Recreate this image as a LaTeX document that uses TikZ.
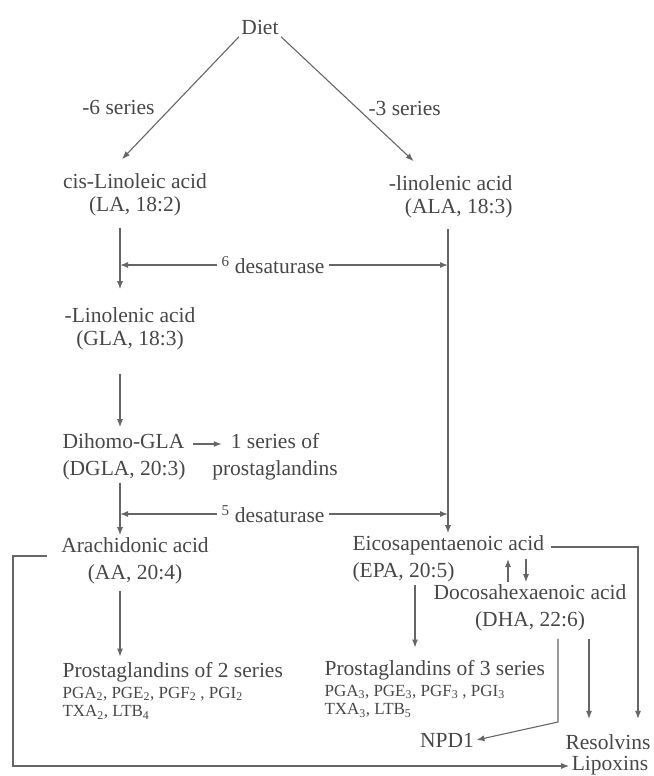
\documentclass[tikz,border=0pt]{standalone}
\usepackage{fontspec}
\setmainfont{Liberation Serif}
\usetikzlibrary{arrows.meta,calc}

\begin{document}
\begin{tikzpicture}[x=1pt,y=-1pt,draw=black!60,line width=1.1pt,
    >={Latex[length=8pt,width=6pt]}]
    \tikzstyle{acid}=[text=black!72,font=\fontsize{21.5}{27}\selectfont,inner sep=2pt]
    \tikzstyle{tight acid}=[acid,font=\fontsize{21.5}{23}\selectfont]
    \tikzstyle{small acid}=[acid,font=\fontsize{17}{18.5}\selectfont]
    \tikzstyle{enzyme}=[acid,inner sep=4pt]
    \tikzstyle{link}=[->]

    \useasboundingbox (0,0) rectangle (653,776);

    % Columns for the long vertical arrows
    \coordinate (lc) at (120,0);
    \coordinate (rc) at (448,0);
    \coordinate (pc) at (415,0);
    \coordinate (loop) at (13,0);
    \coordinate (bend) at (558,722);

    % Diet and the two essential acids
    \node[acid] (diet) at (260,27) {Diet};
    \node[tight acid,align=center] (la) at (135,195) {cis-Linoleic acid\\(LA, 18:2)};
    \node[tight acid,align=right,anchor=east] (ala) at (515,197) {-linolenic acid\\(ALA, 18:3)};

    % Left hand series
    \node[tight acid,align=center] (gla) at (130,329) {-Linolenic acid\\(GLA, 18:3)};
    \node[acid,align=left,anchor=west] (dgla) at (60,457) {Dihomo-GLA\\(DGLA, 20:3)};
    \node[acid,align=center] (ser1) at (275,457) {1 series of\\prostaglandins};
    \node[acid,align=center] (aa) at (135,561) {Arachidonic acid\\(AA, 20:4)};
    \node[acid,anchor=west] (pg2) at (60,672) {Prostaglandins of 2 series};
    \node[small acid,align=left,anchor=north west] (pg2s) at (pg2.south west)
        {PGA\textsubscript{2}, PGE\textsubscript{2}, PGF\textsubscript{2} , PGI\textsubscript{2}\\TXA\textsubscript{2}, LTB\textsubscript{4}};

    % Right hand series
    \node[acid,align=left,anchor=west] (epa) at (350,559) {Eicosapentaenoic acid\\(EPA, 20:5)};
    \node[acid,align=center] (dha) at (530,608) {Docosahexaenoic acid\\(DHA, 22:6)};
    \node[acid,anchor=west] (pg3) at (322,670) {Prostaglandins of 3 series};
    \node[small acid,align=left,anchor=north west] (pg3s) at (pg3.south west)
        {PGA\textsubscript{3}, PGE\textsubscript{3}, PGF\textsubscript{3} , PGI\textsubscript{3}\\TXA\textsubscript{3}, LTB\textsubscript{5}};
    \node[acid] (npd) at (447,740) {NPD1};
    \node[acid] (res) at (608,742) {Resolvins};
    \node[acid] (lip) at (610,766) {Lipoxins};

    % Desaturase steps
    \node[enzyme] (d6) at (273,265) {\textsuperscript{6} desaturase};
    \node[enzyme] (d5) at (273,514) {\textsuperscript{5} desaturase};

    % Diet splits into the two series
    \draw[link] (diet.south west) -- node[acid,pos=0.58,left=14pt] (s6) {-6 series}
        ([xshift=-13pt,yshift=12pt]la.north);
    \draw[link] (diet.south east) -- node[acid,pos=0.58,right=8pt] (s3) {-3 series}
        ([xshift=-37pt,yshift=12pt]ala.north);

    % Down the left column
    \draw[link,shorten <=9pt,shorten >=16pt] (la.south -| lc) -- (gla.north -| lc);
    \draw[link,shorten <=21pt,shorten >=4pt] (gla.south -| lc) -- (dgla.north -| lc);
    \draw[link] (dgla.south -| lc) -- (aa.north -| lc);
    \draw[link,shorten <=4pt,shorten >=3pt] (aa.south -| lc) -- (pg2.north -| lc);
    \draw[link] ([xshift=5pt,yshift=13pt]dgla.east) -- ([xshift=12pt,yshift=13pt]ser1.west);

    % Down the right column
    \draw[link,shorten <=8pt] (ala.south -| rc) -- (epa.north -| rc);
    \draw[link,shorten >=10pt] (epa.south -| pc) -- (pg3.north -| pc);

    % Enzymes act on both columns
    \draw[link] (d6.west) -- (d6.west -| lc);
    \draw[link] (d6.east) -- (d6.east -| rc);
    \draw[link] (d5.west) -- (d5.west -| lc);
    \draw[link] (d5.east) -- (d5.east -| rc);

    % EPA and DHA
    \draw[link] ($(dha.north)+(-22,0)$) -- ($(dha.north |- epa.east)+(-22,0)$);
    \draw[link] ($(dha.north |- epa.east)+(-4,0)$) -- ($(dha.north)+(-4,0)$);
    \draw[link] ($(epa.east)+(4,-12)$) -| ($(res.north)+(30,-13)$);
    \draw[link] ($(dha.south -| res.north)+(-19,5)$) -- ($(res.north)+(-19,-13)$);
    \draw[link] ($(dha.south -| bend)+(0,5)$) -- (bend) -- (npd.east);

    % Arachidonic acid to lipoxins
    \draw[link] ($(aa.west)+(-12,-5)$) -| (loop |- lip.west) -- (lip.west);
\end{tikzpicture}
\end{document}
